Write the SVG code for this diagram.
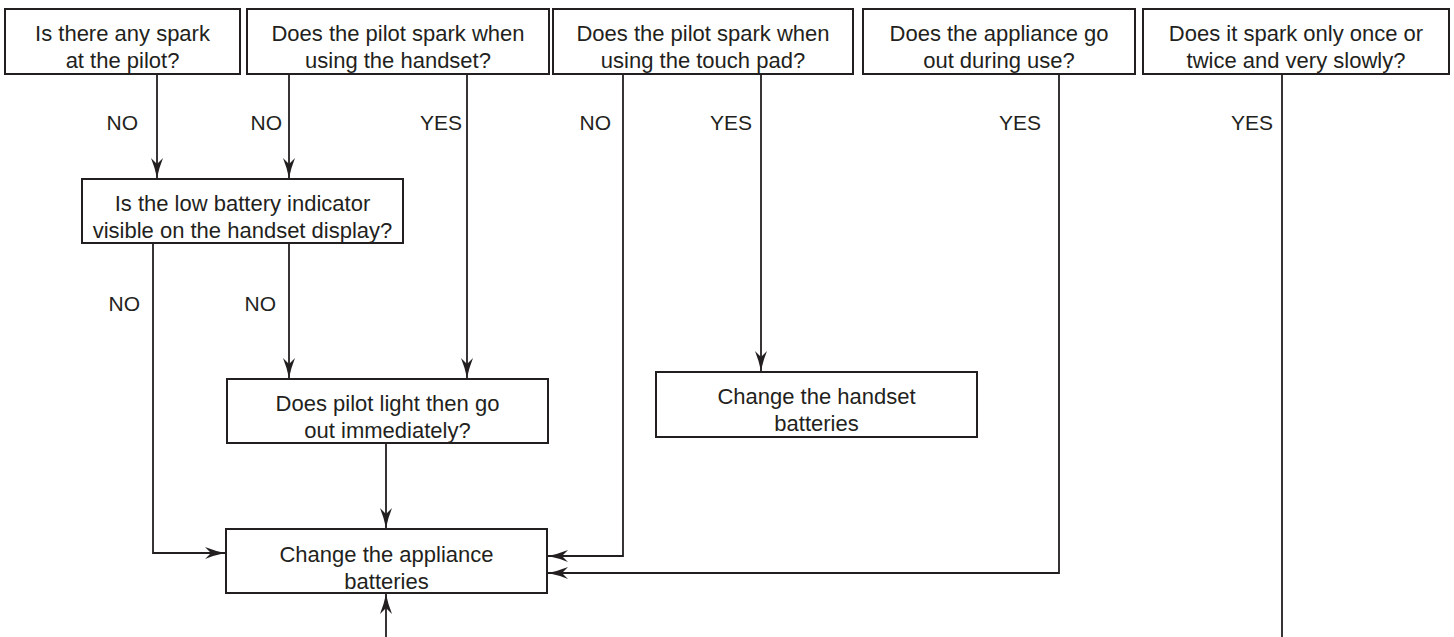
<svg xmlns="http://www.w3.org/2000/svg" width="1454" height="637" viewBox="0 0 1454 637">
<defs>
<style>
.box{fill:#fff;stroke:#231f20;stroke-width:2}
.t{font-family:"Liberation Sans",Arial,sans-serif;font-size:22px;fill:#231f20;text-anchor:middle}
.l{font-family:"Liberation Sans",Arial,sans-serif;font-size:21px;fill:#231f20;text-anchor:end}
.c{fill:none;stroke:#231f20;stroke-width:1.8}
</style>
<marker id="ah" markerWidth="21" markerHeight="14" refX="20" refY="7" orient="auto" markerUnits="userSpaceOnUse">
<path d="M0,1 Q10,5 20,7 Q10,9 0,13 L6,7 Z" fill="#231f20"/>
</marker>
</defs>
<rect width="1454" height="637" fill="#fff"/>
<g id="connectors">
<path class="c" d="M157,74 V178" marker-end="url(#ah)"/>
<path class="c" d="M289,74 V178" marker-end="url(#ah)"/>
<path class="c" d="M467,74 V378" marker-end="url(#ah)"/>
<path class="c" d="M623,74 V556 H548" marker-end="url(#ah)"/>
<path class="c" d="M761,74 V371" marker-end="url(#ah)"/>
<path class="c" d="M1059,74 V573 H548" marker-end="url(#ah)"/>
<path class="c" d="M1282,74 V637"/>
<path class="c" d="M153,243 V553 H225" marker-end="url(#ah)"/>
<path class="c" d="M289,243 V378" marker-end="url(#ah)"/>
<path class="c" d="M386,443 V528" marker-end="url(#ah)"/>
<path class="c" d="M386,637 V594" marker-end="url(#ah)"/>
</g>
<g id="labels">
<text class="l" x="138" y="130">NO</text>
<text class="l" x="282" y="130">NO</text>
<text class="l" x="462" y="130">YES</text>
<text class="l" x="611" y="130">NO</text>
<text class="l" x="752" y="130">YES</text>
<text class="l" x="1041" y="130">YES</text>
<text class="l" x="1273" y="130">YES</text>
<text class="l" x="140" y="311">NO</text>
<text class="l" x="276" y="311">NO</text>
</g>
<g id="q1">
<rect class="box" x="5" y="9" width="235" height="65"/>
<text class="t" x="122.5" y="41">Is there any spark</text>
<text class="t" x="122.5" y="68">at the pilot?</text>
</g>
<g id="q2">
<rect class="box" x="247" y="9" width="302" height="65"/>
<text class="t" x="398" y="41">Does the pilot spark when</text>
<text class="t" x="398" y="68">using the handset?</text>
</g>
<g id="q3">
<rect class="box" x="553" y="9" width="300" height="65"/>
<text class="t" x="703" y="41">Does the pilot spark when</text>
<text class="t" x="703" y="68">using the touch pad?</text>
</g>
<g id="q4">
<rect class="box" x="863" y="9" width="272" height="65"/>
<text class="t" x="999" y="41">Does the appliance go</text>
<text class="t" x="999" y="68">out during use?</text>
</g>
<g id="q5">
<rect class="box" x="1143" y="9" width="306" height="65"/>
<text class="t" x="1296" y="41">Does it spark only once or</text>
<text class="t" x="1296" y="68">twice and very slowly?</text>
</g>
<g id="q6">
<rect class="box" x="82" y="179" width="321" height="64"/>
<text class="t" x="242.5" y="211">Is the low battery indicator</text>
<text class="t" x="242.5" y="238">visible on the handset display?</text>
</g>
<g id="q7">
<rect class="box" x="227" y="379" width="321" height="64"/>
<text class="t" x="387.5" y="411">Does pilot light then go</text>
<text class="t" x="387.5" y="438">out immediately?</text>
</g>
<g id="a1">
<rect class="box" x="656" y="372" width="321" height="65"/>
<text class="t" x="816.5" y="404">Change the handset</text>
<text class="t" x="816.5" y="431">batteries</text>
</g>
<g id="a2">
<rect class="box" x="226" y="529" width="321" height="64"/>
<text class="t" x="386.5" y="562">Change the appliance</text>
<text class="t" x="386.5" y="589">batteries</text>
</g>
</svg>
